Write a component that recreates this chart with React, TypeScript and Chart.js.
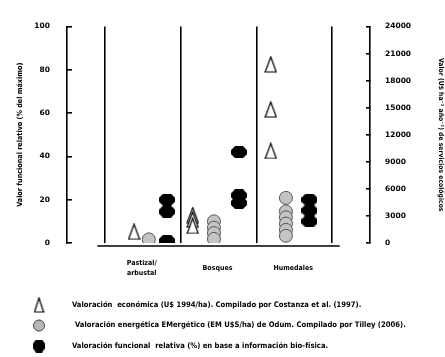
import { useEffect, useRef } from "react";
import { Chart, registerables } from "chart.js";

Chart.register(...registerables);

// Ecosystem types along the horizontal axis
const categories = ["Pastizal/arbustal", "Bosques", "Humedales"];
const categoryLines = [["Pastizal/", "arbustal"], ["Bosques"], ["Humedales"]];

// Economic valuation, U$ ha-1 año-1 (right axis)
const costanzaValues = [[1250], [3100, 2600, 1900], [19800, 14800, 10200]];
// Emergy valuation, EM U$S ha-1 (right axis)
const emergyValues = [[400], [2400, 1700, 1100, 450], [5000, 3500, 2850, 2150, 1450, 800]];
// Relative functional value, % of maximum (left axis)
const functionalValues = [[20, 14.5, 1], [42, 22, 18.5], [20, 15, 10]];

const leftTicks = [0, 20, 40, 60, 80, 100];
const rightTicks = [0, 3000, 6000, 9000, 12000, 15000, 18000, 21000, 24000];

const legendLabels = [
  "Valoración  económica (U$ 1994/ha). Compilado por Costanza et al. (1997).",
  "Valoración energética EMergético (EM U$S/ha) de Odum. Compilado por Tilley (2006).",
  "Valoración funcional  relativa (%) en base a información bio-física.",
];

// Horizontal dodge of each marker group inside its category column
const dodge = {
  costanza: [-0.115, -0.34, -0.31],
  emergy: [0.08, -0.06, -0.11],
  functional: [0.32, 0.27, 0.2],
};

const FONT = "DejaVu Sans Condensed";

function makeTriangle(w: number, h: number) {
  const c = document.createElement("canvas");
  c.width = w;
  c.height = h;
  const g = c.getContext("2d")!;
  g.beginPath();
  g.moveTo(w / 2, 1);
  g.lineTo(w - 1, h - 1);
  g.lineTo(1, h - 1);
  g.closePath();
  g.fillStyle = "#fff";
  g.fill();
  g.strokeStyle = "#000";
  g.lineWidth = 1.2;
  g.stroke();
  return c;
}

function makeBlob(w: number, h: number) {
  const c = document.createElement("canvas");
  c.width = w;
  c.height = h;
  const g = c.getContext("2d")!;
  const cx = Math.round(w * 0.25);
  const cy = Math.round(h * 0.3);
  g.beginPath();
  g.moveTo(cx, 0);
  g.lineTo(w - cx, 0);
  g.lineTo(w, cy);
  g.lineTo(w, h - cy);
  g.lineTo(w - cx, h);
  g.lineTo(cx, h);
  g.lineTo(0, h - cy);
  g.lineTo(0, cy);
  g.closePath();
  g.fillStyle = "#000";
  g.fill();
  return c;
}

function toPoints(values: number[][], offsets: number[]) {
  return values.flatMap((vals, i) => vals.map((v) => ({ x: i + 1 + offsets[i], y: v })));
}

export default function App() {
  const canvasRef = useRef<HTMLCanvasElement | null>(null);

  useEffect(() => {
    const canvas = canvasRef.current;
    if (!canvas) return;

    const triangle = makeTriangle(13, 17);
    const blob = makeBlob(16, 12);
    const legendTriangle = makeTriangle(11, 16);
    const legendBlob = makeBlob(12, 13);

    const decor = {
      id: "decor",
      afterDraw(chart: any) {
        const { ctx, chartArea, scales } = chart;
        const xs = scales.x;
        ctx.save();
        // baseline under the category columns
        ctx.strokeStyle = "#000";
        ctx.lineWidth = 1.5;
        ctx.beginPath();
        ctx.moveTo(xs.getPixelForValue(0.4), chartArea.bottom + 3);
        ctx.lineTo(xs.getPixelForValue(3.6), chartArea.bottom + 3);
        ctx.stroke();

        // category names
        ctx.fillStyle = "#000";
        ctx.font = `bold 7px "${FONT}"`;
        ctx.textAlign = "center";
        ctx.textBaseline = "middle";
        categoryLines.forEach((lines, i) => {
          const cx = xs.getPixelForValue(i + 1);
          const lh = 10;
          const y0 = chartArea.bottom + 25 - ((lines.length - 1) * lh) / 2;
          lines.forEach((t, j) => ctx.fillText(t, cx - 1, y0 + j * lh));
        });

        // legend
        const rows = [305, 325.5, 346];
        const textX = [72, 75, 72];
        const mx = 39;
        ctx.drawImage(legendTriangle, mx - legendTriangle.width / 2, rows[0] - legendTriangle.height / 2);
        ctx.beginPath();
        ctx.arc(mx, rows[1], 5.5, 0, Math.PI * 2);
        ctx.fillStyle = "#b8b8b8";
        ctx.fill();
        ctx.strokeStyle = "#444";
        ctx.lineWidth = 1;
        ctx.stroke();
        ctx.drawImage(legendBlob, mx - legendBlob.width / 2, rows[2] - legendBlob.height / 2);
        ctx.fillStyle = "#000";
        ctx.font = `bold 7.6px "${FONT}"`;
        ctx.textAlign = "left";
        legendLabels.forEach((t, i) => ctx.fillText(t, textX[i], rows[i]));
        ctx.restore();
      },
    };

    const tickFont = { family: "DejaVu Sans", size: 7.5, weight: "bold" as const };

    const chart = new Chart(canvas, {
      type: "scatter",
      data: {
        datasets: [
          {
            label: legendLabels[0],
            data: toPoints(costanzaValues, dodge.costanza),
            yAxisID: "yR",
            pointStyle: triangle,
            pointRadius: 7,
          },
          {
            label: legendLabels[1],
            data: toPoints(emergyValues, dodge.emergy),
            yAxisID: "yR",
            pointStyle: "circle",
            pointRadius: 6.5,
            backgroundColor: "#c4c4c4",
            borderColor: "#555",
            borderWidth: 1,
          },
          {
            label: legendLabels[2],
            data: toPoints(functionalValues, dodge.functional),
            yAxisID: "y",
            pointStyle: blob,
            pointRadius: 7,
          },
        ],
      },
      options: {
        animation: false,
        responsive: false,
        devicePixelRatio: 1,
        layout: { padding: { top: 14, bottom: 0, left: 0, right: 0 } },
        plugins: { legend: { display: false }, tooltip: { enabled: false } },
        scales: {
          x: {
            type: "linear",
            min: 0,
            max: 4,
            afterBuildTicks: (s: any) => {
              s.ticks = [0.5, 1.5, 2.5, 3.5].map((value) => ({ value }));
            },
            afterFit: (s: any) => {
              s.height = 114;
            },
            ticks: { display: false },
            border: { display: false },
            grid: { color: "#000", lineWidth: 1.6, drawTicks: false },
          },
          y: {
            position: "left",
            min: 0,
            max: 100,
            afterBuildTicks: (s: any) => {
              s.ticks = leftTicks.map((value) => ({ value }));
            },
            afterFit: (s: any) => {
              s.width = 67;
            },
            ticks: { color: "#000", font: tickFont, padding: 22, callback: (v: any) => String(v) },
            border: { color: "#000", width: 1.6 },
            grid: { drawOnChartArea: false, tickLength: -5, color: "#000", lineWidth: 1.6 },
            title: {
              display: true,
              text: "Valor funcional relativo (% del máximo)",
              color: "#000",
              font: { family: FONT, size: 7.2, weight: "bold" },
              padding: { top: 16, bottom: 0 },
            },
          },
          yR: {
            position: "right",
            min: 0,
            max: 24000,
            afterBuildTicks: (s: any) => {
              s.ticks = rightTicks.map((value) => ({ value }));
            },
            afterFit: (s: any) => {
              s.width = 75;
            },
            ticks: { color: "#000", font: tickFont, padding: 19, callback: (v: any) => String(v) },
            border: { color: "#000", width: 1.6 },
            grid: { drawOnChartArea: false, tickLength: -4, color: "#000", lineWidth: 1.6 },
            title: {
              display: true,
              text: "Valor (U$ ha⁻¹ año⁻¹) de servicios ecológicos",
              color: "#000",
              font: { family: FONT, size: 6.8, weight: "bold" },
              padding: { top: 0, bottom: 0 },
            },
          },
        },
      },
      plugins: [decor],
    });

    return () => chart.destroy();
  }, []);

  return (
    <div style={{ position: "absolute", left: 0, top: 0, width: 445, height: 357, background: "#fff" }}>
      <canvas ref={canvasRef} width={445} height={357} aria-label={categories.join(", ")} />
    </div>
  );
}
